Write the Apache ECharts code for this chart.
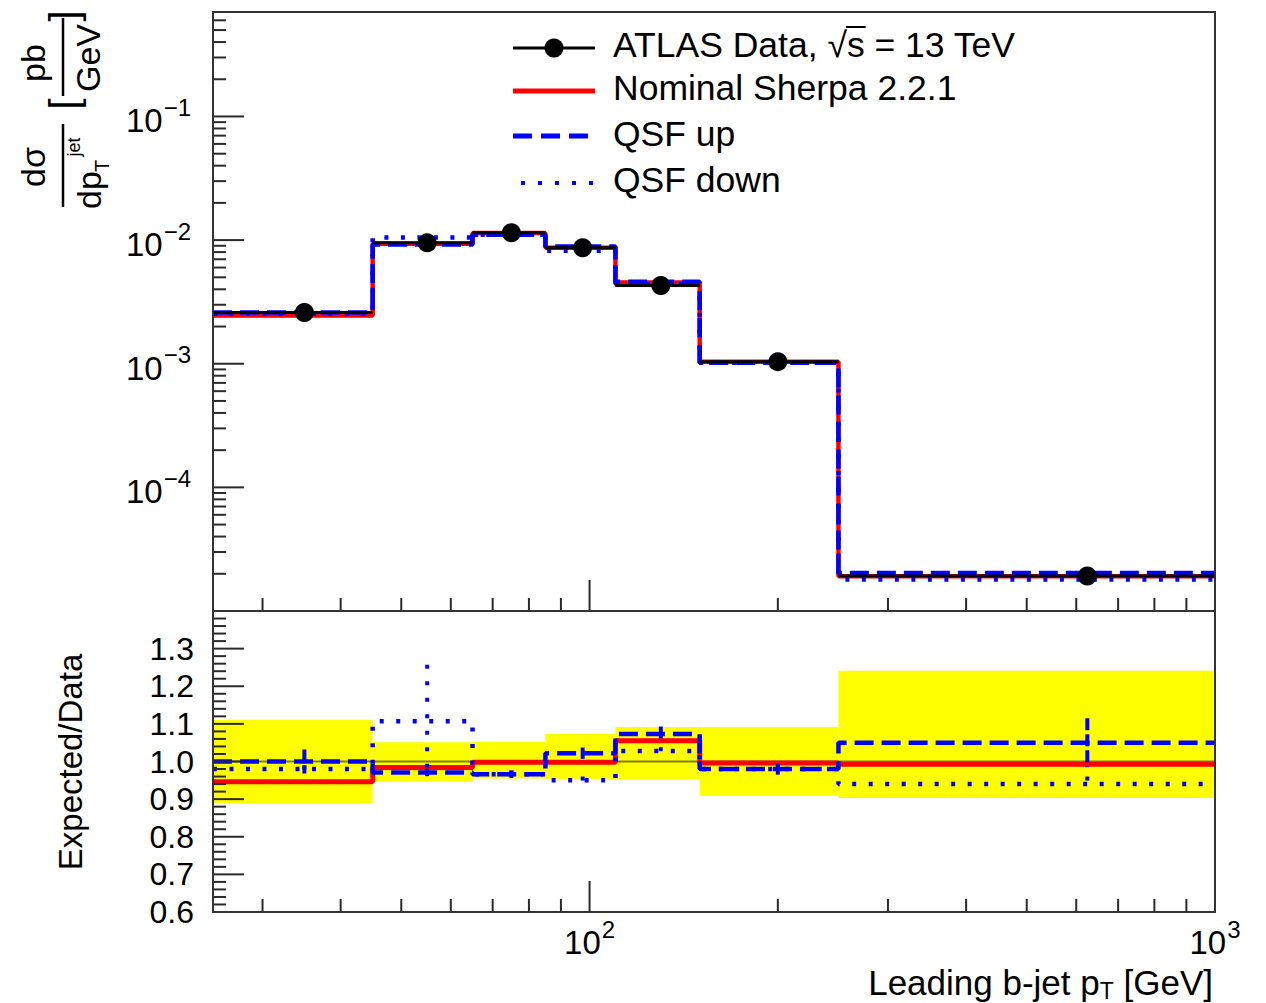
<!DOCTYPE html>
<html>
<head>
<meta charset="utf-8">
<script src="https://cdn.jsdelivr.net/npm/echarts@6/dist/echarts.min.js"></script>
<style>
  html, body { margin: 0; padding: 0; background: #fff; }
  #chart { width: 1266px; height: 1003px; }
</style>
</head>
<body>
<div id="chart"></div>
<script>
// Leading b-jet pT binning [GeV]
const binEdges   = [25, 45, 65, 85, 110, 150, 250, 1000];
const binCenters = [35, 55, 75, 97.5, 130, 200, 625];

// Differential cross-section dσ/dpT [pb/GeV]
const dataXsec     = [2.60e-3, 9.50e-3, 1.148e-2, 8.68e-3, 4.30e-3, 1.040e-3, 1.92e-5];
const nominalXsec  = [2.46e-3, 9.35e-3, 1.143e-2, 8.66e-3, 4.54e-3, 1.036e-3, 1.91e-5];
const qsfUpXsec    = [2.60e-3, 9.22e-3, 1.107e-2, 8.86e-3, 4.61e-3, 1.020e-3, 2.03e-5];
const qsfDownXsec  = [2.55e-3, 1.052e-2, 1.107e-2, 8.22e-3, 4.42e-3, 1.020e-3, 1.80e-5];

// Expected/Data ratios
const nominalRatio = [0.946, 0.984, 0.998, 0.998, 1.055, 0.996, 0.993];
const qsfUpRatio   = [1.000, 0.971, 0.966, 1.022, 1.073, 0.980, 1.050];
const qsfUpErr     = [0.032, 0.010, 0.010, 0.015, 0.020, 0.015, 0.065];
const qsfDownRatio = [0.980, 1.107, 0.966, 0.950, 1.028, 0.980, 0.940];
const qsfDownErr   = [0.010, 0.150, 0.010, 0.010, 0.010, 0.010, 0.020];
// Data uncertainty band
const bandLow      = [0.889, 0.946, 0.955, 0.953, 0.953, 0.909, 0.903];
const bandHigh     = [1.111, 1.051, 1.052, 1.073, 1.092, 1.092, 1.241];

// Axis tick values
const xMajorTicks = [100];
const xMinorTicks = [30, 40, 50, 60, 70, 80, 90, 200, 300, 400, 500, 600, 700, 800, 900];
const yLogMajorTicks = [1e-5, 1e-4, 1e-3, 1e-2, 1e-1];
const yLogMinorTicks = [];
[1e-5, 1e-4, 1e-3, 1e-2, 1e-1].forEach(d => {
  for (let m = 2; m <= 9; m++) { if (m * d <= 0.7) yLogMinorTicks.push(m * d); }
});
const ratioMajorTicks = [0.6, 0.7, 0.8, 0.9, 1.0, 1.1, 1.2, 1.3];
const ratioMinorTicks = [];
for (let k = 31; k < 70; k++) { if (k % 5 !== 0) ratioMinorTicks.push(k / 50); }

const FONT = '"Liberation Sans", Arial, Helvetica, sans-serif';
const RED = '#ff0000', BLUE = '#0000ff';
const DASH = [19, 8], DOT = [4, 12.5];

function stepData(vals) {
  return binEdges.map((e, i) => [e, vals[Math.min(i, vals.length - 1)]]);
}

function stepSeries(idx, vals, color, width, type, z) {
  return {
    type: 'line', xAxisIndex: idx, yAxisIndex: idx, step: 'end',
    data: stepData(vals), symbol: 'none', silent: true, z: z,
    lineStyle: { color: color, width: width, type: type, cap: 'butt', opacity: 1 }
  };
}

function xTickSeries(idx, values, len, yRef) {
  return {
    type: 'custom', xAxisIndex: idx, yAxisIndex: idx, silent: true, z: 20,
    data: values.map(v => [v, yRef]), encode: { x: 0, y: 1 },
    renderItem(params, api) {
      const px = api.coord([api.value(0), yRef])[0];
      const bottom = params.coordSys.y + params.coordSys.height;
      return { type: 'line', shape: { x1: px, y1: bottom, x2: px, y2: bottom - len },
               style: { stroke: '#2a2a2a', lineWidth: 2 } };
    }
  };
}

function yTickSeries(idx, values, len, xRef) {
  return {
    type: 'custom', xAxisIndex: idx, yAxisIndex: idx, silent: true, z: 20,
    data: values.map(v => [xRef, v]), encode: { x: 0, y: 1 },
    renderItem(params, api) {
      const py = api.coord([xRef, api.value(1)])[1];
      const left = params.coordSys.x;
      return { type: 'line', shape: { x1: left, y1: py, x2: left + len, y2: py },
               style: { stroke: '#2a2a2a', lineWidth: 2 } };
    }
  };
}

function errorBarSeries(vals, errs, color, dash, z) {
  return {
    type: 'custom', xAxisIndex: 1, yAxisIndex: 1, silent: true, z: z,
    data: vals.map((v, i) => [binCenters[i], v, errs[i]]), encode: { x: 0, y: 1 },
    renderItem(params, api) {
      const x = api.value(0), v = api.value(1), e = api.value(2);
      const top = api.coord([x, v + e]);
      const bot = api.coord([x, v - e]);
      return { type: 'line', shape: { x1: top[0], y1: top[1], x2: bot[0], y2: bot[1] },
               style: { stroke: color, lineWidth: 4, lineDash: dash } };
    }
  };
}

function powLabel(v) {
  const e = Math.round(Math.log10(v));
  if (Math.abs(Math.log10(v) - e) > 1e-6) return '';
  return '{b|10}{s|' + (e < 0 ? '\u2212' + (-e) : e) + '}';
}

const supRich = {
  b: { fontFamily: FONT, fontSize: 33, lineHeight: 42, verticalAlign: 'bottom', color: '#000' },
  s: { fontFamily: FONT, fontSize: 24, lineHeight: 24, verticalAlign: 'top', padding: [0, 0, 18, 1], color: '#000' }
};

// Text measurement for the composed legend and axis titles
const measureCtx = document.createElement('canvas').getContext('2d');
function textWidth(text, size) {
  measureCtx.font = size + 'px "Liberation Sans"';
  return measureCtx.measureText(text).width;
}

const LEG_SIZE = 35.5;
const legX = 613;
const w1 = textWidth('ATLAS Data, ', LEG_SIZE);
const wr = textWidth('\u221A', LEG_SIZE);
const ws = textWidth('s', LEG_SIZE);

// x title pieces, right-aligned at the frame edge
const TITLE_SIZE = 35, SUB_SIZE = 23, titleRight = 1213, titleY = 982;
const wTail = textWidth(' [GeV]', TITLE_SIZE);
const wSub = textWidth('T', SUB_SIZE);

function legText(x, y, text) {
  return { type: 'text', x: x, y: y, z: 50,
           style: { text: text, fontFamily: FONT, fontSize: LEG_SIZE, fill: '#000', align: 'left', verticalAlign: 'middle' } };
}
function plainText(x, y, text, size, align) {
  return { type: 'text', x: x, y: y, z: 50,
           style: { text: text, fontFamily: FONT, fontSize: size, fill: '#000', align: align, verticalAlign: 'middle' } };
}
function rotText(x, y, text, size) {
  return { type: 'text', x: x, y: y, rotation: Math.PI / 2, z: 50,
           style: { text: text, fontFamily: FONT, fontSize: size, fill: '#000', align: 'center', verticalAlign: 'middle' } };
}

const graphics = [
  // legend
  { type: 'line', z: 50, shape: { x1: 513, y1: 48, x2: 595, y2: 48 }, style: { stroke: '#000', lineWidth: 3 } },
  { type: 'circle', z: 51, shape: { cx: 554, cy: 48, r: 9.5 }, style: { fill: '#000' } },
  legText(legX, 45, 'ATLAS Data, '),
  legText(legX + w1, 45, '\u221A'),
  legText(legX + w1 + wr, 45, 's'),
  { type: 'line', z: 50, shape: { x1: legX + w1 + wr - 1, y1: 27, x2: legX + w1 + wr + ws + 1, y2: 27 }, style: { stroke: '#000', lineWidth: 2 } },
  legText(legX + w1 + wr + ws, 45, ' = 13 TeV'),
  { type: 'line', z: 50, shape: { x1: 513, y1: 91, x2: 595, y2: 91 }, style: { stroke: RED, lineWidth: 5 } },
  legText(legX, 88, 'Nominal Sherpa 2.2.1'),
  { type: 'line', z: 50, shape: { x1: 513, y1: 136, x2: 595, y2: 136 }, style: { stroke: BLUE, lineWidth: 5, lineDash: [19, 9] } },
  legText(legX, 134, 'QSF up'),
  { type: 'line', z: 50, shape: { x1: 521, y1: 183, x2: 595, y2: 183 }, style: { stroke: BLUE, lineWidth: 4, lineDash: [4, 13] } },
  legText(legX, 180, 'QSF down'),
  // y title of the cross-section panel: dσ/dpT [pb/GeV]
  rotText(33, 167, 'd\u03C3', 34),
  { type: 'line', z: 50, shape: { x1: 63, y1: 124, x2: 63, y2: 207 }, style: { stroke: '#000', lineWidth: 2.5 } },
  rotText(89, 190, 'dp', 34),
  rotText(102, 166, 'T', 20),
  rotText(74, 147, 'jet', 18),
  rotText(64, 104, '[', 40),
  rotText(33, 63, 'pb', 34),
  { type: 'line', z: 50, shape: { x1: 63, y1: 18, x2: 63, y2: 96 }, style: { stroke: '#000', lineWidth: 2.5 } },
  rotText(88, 58, 'GeV', 34),
  rotText(64, 16, ']', 40),
  // y title of the ratio panel
  rotText(70, 762, 'Expected/Data', 33),
  // x title: Leading b-jet pT [GeV]
  plainText(titleRight - wTail - wSub, titleY, 'Leading b-jet p', TITLE_SIZE, 'right'),
  plainText(titleRight - wTail - wSub, titleY + 9, 'T', SUB_SIZE, 'left'),
  plainText(titleRight - wTail, titleY, ' [GeV]', TITLE_SIZE, 'left')
];

const series = [
  // cross-section panel
  stepSeries(0, nominalXsec, RED, 4.5, 'solid', 3),
  stepSeries(0, qsfUpXsec, BLUE, 4.5, DASH, 4),
  stepSeries(0, qsfDownXsec, BLUE, 4.5, DOT, 5),
  {
    type: 'custom', xAxisIndex: 0, yAxisIndex: 0, silent: true, z: 6,
    data: dataXsec.map((v, i) => [binEdges[i], binEdges[i + 1], v]), encode: { x: [0, 1], y: 2 },
    renderItem(params, api) {
      const a = api.coord([api.value(0), api.value(2)]);
      const b = api.coord([api.value(1), api.value(2)]);
      return { type: 'line', shape: { x1: a[0], y1: a[1], x2: b[0], y2: b[1] }, style: { stroke: '#000', lineWidth: 3 } };
    }
  },
  {
    type: 'scatter', xAxisIndex: 0, yAxisIndex: 0, silent: true, z: 7,
    data: dataXsec.map((v, i) => [binCenters[i], v]),
    symbol: 'circle', symbolSize: 19, itemStyle: { color: '#000', opacity: 1 }
  },
  // ratio panel
  {
    type: 'custom', xAxisIndex: 1, yAxisIndex: 1, silent: true, z: 1,
    data: bandLow.map((lo, i) => [binEdges[i], binEdges[i + 1], lo, bandHigh[i]]), encode: { x: [0, 1], y: [2, 3] },
    renderItem(params, api) {
      const p1 = api.coord([api.value(0), api.value(3)]);
      const p2 = api.coord([api.value(1), api.value(2)]);
      return { type: 'rect', shape: { x: p1[0], y: p1[1], width: p2[0] - p1[0], height: p2[1] - p1[1] }, style: { fill: '#ffff00' } };
    }
  },
  {
    type: 'line', xAxisIndex: 1, yAxisIndex: 1, silent: true, z: 2, symbol: 'none',
    data: [[binEdges[0], 1], [binEdges[binEdges.length - 1], 1]],
    lineStyle: { color: 'rgba(0,0,0,0.5)', width: 2 }
  },
  stepSeries(1, nominalRatio, RED, 5, 'solid', 3),
  stepSeries(1, qsfUpRatio, BLUE, 4.5, DASH, 4),
  stepSeries(1, qsfDownRatio, BLUE, 4.5, DOT, 5),
  errorBarSeries(qsfUpRatio, qsfUpErr, BLUE, [12, 4], 4),
  errorBarSeries(qsfDownRatio, qsfDownErr, BLUE, [4, 12.5], 5),
  // axis ticks
  xTickSeries(0, xMinorTicks, 13, 1e-3),
  xTickSeries(0, xMajorTicks, 31, 1e-3),
  xTickSeries(1, xMinorTicks, 13, 1),
  xTickSeries(1, xMajorTicks, 31, 1),
  yTickSeries(0, yLogMinorTicks, 13, 100),
  yTickSeries(0, yLogMajorTicks, 31, 100),
  yTickSeries(1, ratioMinorTicks, 13, 100),
  yTickSeries(1, ratioMajorTicks, 31, 100)
];

const hiddenAxis = { axisLine: { show: false }, axisTick: { show: false }, splitLine: { show: false } };

const option = {
  animation: false,
  backgroundColor: '#fff',
  grid: [
    { left: 213, top: 12, width: 1002, height: 599, show: true, borderColor: '#333', borderWidth: 2, backgroundColor: 'transparent', z: 30 },
    { left: 213, top: 611, width: 1002, height: 301, show: true, borderColor: '#333', borderWidth: 2, backgroundColor: 'transparent', z: 30 }
  ],
  xAxis: [
    Object.assign({ gridIndex: 0, type: 'log', logBase: 10, min: 25, max: 1000, axisLabel: { show: false } }, hiddenAxis),
    Object.assign({ gridIndex: 1, type: 'log', logBase: 10, min: 25, max: 1000,
      axisLabel: { show: true, margin: 5, formatter: powLabel, rich: supRich, showMinLabel: true, showMaxLabel: true, hideOverlap: false } }, hiddenAxis)
  ],
  yAxis: [
    Object.assign({ gridIndex: 0, type: 'log', logBase: 10, min: 1e-5, max: 0.7,
      axisLabel: { show: true, margin: 22, formatter: v => (Math.round(Math.log10(v)) <= -5 ? '' : powLabel(v)), rich: supRich, showMinLabel: true, showMaxLabel: true } }, hiddenAxis),
    Object.assign({ gridIndex: 1, type: 'value', min: 0.6, max: 1.4, interval: 0.1,
      axisLabel: { show: true, margin: 19, fontFamily: FONT, fontSize: 32, color: '#000',
        formatter: v => (v > 1.35 ? '' : v.toFixed(1)), showMinLabel: true, showMaxLabel: true } }, hiddenAxis)
  ],
  series: series,
  graphic: graphics
};

const chart = echarts.init(document.getElementById('chart'), null, { renderer: 'svg' });
chart.setOption(option);
</script>
</body>
</html>
